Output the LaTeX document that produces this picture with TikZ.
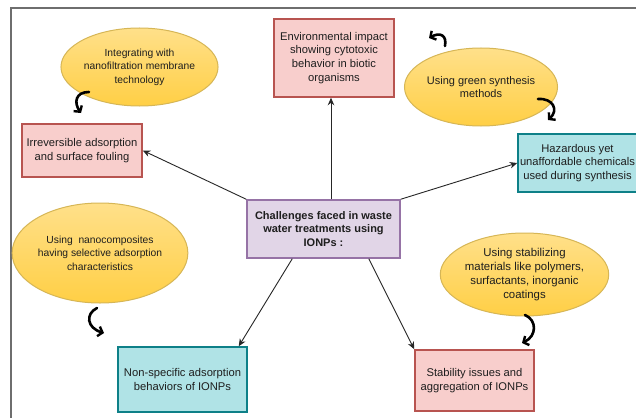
\documentclass[tikz,border=0pt]{standalone}
\usepackage{fontspec}
\setmainfont{Liberation Sans}
\usetikzlibrary{arrows.meta,shapes.geometric}

\definecolor{frameg}{HTML}{6E6E6E}
\definecolor{redfill}{HTML}{F8CECC}
\definecolor{redline}{HTML}{B85450}
\definecolor{tealfill}{HTML}{B0E3E6}
\definecolor{tealline}{HTML}{0E8088}
\definecolor{purpfill}{HTML}{E1D5E7}
\definecolor{purpline}{HTML}{9673A6}
\definecolor{yeltop}{HTML}{FFE08A}
\definecolor{yelbot}{HTML}{FFCF45}
\definecolor{yelline}{HTML}{D6B656}
\definecolor{connc}{HTML}{262626}
\definecolor{txtc}{HTML}{1E1E1E}

\tikzset{
  boxbase/.style={rectangle, line width=1.5pt, inner sep=0pt, align=center,
    text=txtc, font=\fontsize{11.2}{13.8}\selectfont},
  redbox/.style={boxbase, draw=redline, fill=redfill},
  tealbox/.style={boxbase, draw=tealline, fill=tealfill},
  hubbox/.style={boxbase, draw=purpline, fill=purpfill,
    font=\fontsize{11}{13.6}\selectfont\bfseries},
  idea/.style={ellipse, draw=yelline, line width=1pt, top color=yeltop,
    bottom color=yelbot, inner sep=0pt, align=center, text=txtc},
  conn/.style={draw=connc, line width=0.9pt, -{Stealth[length=7.5pt,width=6.5pt]}},
  hint/.style={draw=black, line width=2.6pt, line cap=round,
    -{Straight Barb[length=4.2pt,width=10pt,line width=2.4pt]}}
}

\begin{document}
\begin{tikzpicture}[x=1pt,y=-1pt]
\useasboundingbox (0,0) rectangle (636,417);
\clip (0,0) rectangle (636,417);
\fill[white] (0,0) rectangle (636,417);

% outer frame
\draw[frameg, line width=1.5pt] (11,8) rectangle (650,430);

% problem boxes
\node[redbox, minimum width=120pt, minimum height=78pt] (env) at (334,58)
  {Environmental impact\\showing cytotoxic\\behavior in biotic\\organisms};
\node[redbox, minimum width=120pt, minimum height=53pt] (irr) at (82,150.5)
  {Irreversible adsorption\\and surface fouling};
\node[tealbox, minimum width=119pt, minimum height=58pt] (haz) at (577.5,163)
  {Hazardous yet\\unaffordable chemicals\\used during synthesis};
\node[tealbox, minimum width=129pt, minimum height=65pt] (nonspec) at (182.5,379.5)
  {Non-specific adsorption\\behaviors of IONPs};
\node[redbox, minimum width=119pt, minimum height=61pt] (stab) at (474.5,380.5)
  {Stability issues and\\aggregation of IONPs};

% central box
\node[hubbox, minimum width=153pt, minimum height=58pt] (ctr) at (323.5,229)
  {Challenges faced in waste\\water treatments using\\IONPs :};

% remedies
\node[idea, minimum width=123pt, minimum height=78pt,
  font=\fontsize{10.3}{13.4}\selectfont] (nano) at (139.5,67)
  {Integrating with\\nanofiltration membrane\\technology};
\node[idea, minimum width=122pt, minimum height=78pt,
  font=\fontsize{11}{13.6}\selectfont] (green) at (481,87)
  {Using green synthesis\\methods};
\node[idea, minimum width=134pt, minimum height=100pt,
  font=\fontsize{10.3}{13.6}\selectfont] (comp) at (100,253)
  {Using\ \ nanocomposites\\having selective adsorption\\characteristics};
\node[idea, minimum width=129pt, minimum height=83pt,
  font=\fontsize{11.4}{14}\selectfont] (stabm) at (524.5,274.5)
  {Using stabilizing\\materials like polymers,\\surfactants, inorganic\\coatings};

% connectors from the central box
\draw[conn] ([xshift=7.5pt]ctr.north) -- ([xshift=7.5pt]ctr.north |- env.south);
\draw[conn] (ctr.north west) -- (irr.east);
\draw[conn] (ctr.north east) -- (haz.west);
\draw[conn] ([xshift=46pt]ctr.south west) -- ([xshift=-9pt]nonspec.north east);
\draw[conn] ([xshift=-32pt]ctr.south east) -- (stab.north west);

% curly hint arrows
\coordinate (h1s) at (89,92);   \coordinate (h1e) at (81,113);
\coordinate (h2s) at (445,46);  \coordinate (h2e) at (429,38);
\coordinate (h3s) at (538,99);  \coordinate (h3e) at (548,120);
\coordinate (h4s) at (97,308);  \coordinate (h4e) at (104,333);
\coordinate (h5s) at (525,315); \coordinate (h5e) at (522,343);
\draw[hint] (h1s) .. controls (75,92) and (74,103) .. (h1e);
\draw[hint] (h2s) .. controls (447,35) and (440,32) .. (h2e);
\draw[hint] (h3s) .. controls (553,98) and (559,110) .. (h3e);
\draw[hint] (h4s) .. controls (85,314) and (87,328) .. (h4e);
\draw[hint] (h5s) .. controls (537,320) and (537,336) .. (h5e);
\end{tikzpicture}
\end{document}
